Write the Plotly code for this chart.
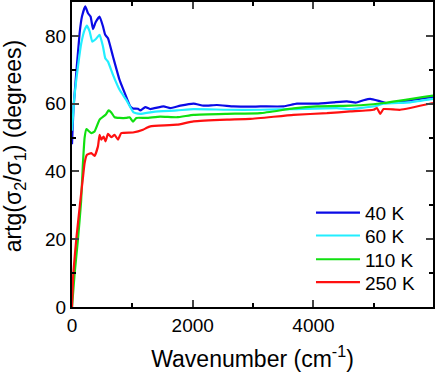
import plotly.graph_objects as go

# ---- data ----
x_40K = [0, 27, 126, 165, 220, 265, 308, 348, 391, 457, 513, 551, 596, 679, 788, 899, 965, 1010, 1093,
         1131, 1214, 1297, 1517, 1628, 1794, 2014, 2180, 2401, 2676, 2953, 3118, 3504, 3726, 4057,
         4332, 4554, 4700, 4829, 4940, 5106, 5216, 5602, 5980]
y_40K = [48, 59.2, 80.8, 85.7, 88.7, 86.7, 85.7, 82, 84, 85.7, 82.8, 80.3, 79.3, 73.9, 67, 62, 59.2, 58.6, 58.5,
         58, 59, 58.4, 59.2, 58.7, 59.4, 60, 59.4, 59.6, 59.2, 59.1, 59.2, 59.2, 60, 60,
         60.4, 60.7, 60.3, 61, 61.4, 60.7, 60.2, 61, 62]

x_60K = [0, 40, 99, 154, 209, 248, 292, 336, 391, 457, 513, 551, 596, 679, 788, 899, 1020, 1131, 1352,
         1739, 2014, 2567, 3118, 3670, 4388, 4609, 4774, 5051, 5161, 5602, 5980]
y_60K = [52, 62, 71, 77.9, 81.8, 83, 81.3, 78.3, 79, 80.3, 76.9, 73.4, 72.4, 68.5, 64.1, 61.1, 57.4, 57, 57.6,
         58, 58.4, 58.2, 58.2, 58.4, 58.7, 58.4, 58.7, 59.4, 60, 60.4, 61.4]

x_110K = [0, 44, 99, 150, 180, 209, 240, 265, 320, 374, 457, 556, 606, 651, 705, 788, 899, 954, 1010, 1065,
          1230, 1462, 1739, 2014, 2567, 3118, 3670, 4057, 4609, 4829, 5161, 5980]
y_110K = [0, 10, 20, 31, 42, 50, 52.5, 52.1, 51.3, 51.8, 55.3, 56.7, 58, 57.4, 56, 55.8, 55.8, 56, 54.7, 55.8,
          55.8, 56.2, 56, 56.7, 57, 57.2, 58.6, 59.2, 59.4, 59.6, 60.2, 62.4]

x_250K = [0, 22, 71, 130, 180, 209, 248, 320, 374, 430, 457, 485, 523, 556, 596, 651, 705, 762, 816, 1010,
          1176, 1230, 1297, 1739, 2014, 2567, 2953, 3670, 4223, 4609, 4995, 5051, 5106, 5161, 5437, 5980]
y_250K = [0, 10, 20, 30, 38, 42.5, 44.9, 45.4, 44.6, 47.4, 50.8, 49.4, 50.3, 48.9, 51.1, 50.1, 50.8, 49.4, 51.3, 51.5,
          52.3, 52.8, 53.3, 53.8, 54.8, 55.3, 55.5, 56.7, 57.2, 57.7, 58.2, 58.7, 57.0, 58.4, 58.2, 60.2]

names = ["40 K", "60 K", "110 K", "250 K"]
colors = ["#0a0ae6", "#22eeff", "#10e010", "#ff1010"]

x_ticks = [0, 2000, 4000]
y_ticks = [0, 20, 40, 60, 80]

font = "Liberation Sans, Arial, Helvetica, sans-serif"

fig = go.Figure()
legend_ids = ["legend", "legend2", "legend3", "legend4"]
for xs, ys, nm, c, lg in zip([x_40K, x_60K, x_110K, x_250K],
                             [y_40K, y_60K, y_110K, y_250K], names, colors, legend_ids):
    fig.add_trace(go.Scatter(x=xs, y=ys, mode="lines", name=nm, legend=lg,
                             line=dict(color=c, width=2.2, shape="spline", smoothing=0.4)))

legend_y = [0.309, 0.234, 0.156, 0.081]
legend_kw = {}
for lg, ly in zip(legend_ids, legend_y):
    legend_kw[lg] = dict(x=0.662, y=ly, xanchor="left", yanchor="middle",
                         bgcolor="rgba(0,0,0,0)", font=dict(size=19, family=font),
                         itemwidth=44)

fig.update_layout(
    width=436, height=383,
    margin=dict(l=72, r=3, t=2, b=76),
    paper_bgcolor="white", plot_bgcolor="white",
    font=dict(family=font, size=19, color="black"),
    showlegend=True,
    **legend_kw,
)
fig.add_annotation(
    text="artg(σ<sub>2</sub>/σ<sub>1</sub>) (degrees)", textangle=-90,
    xref="paper", yref="paper", x=-0.157, y=0.528, xanchor="center", yanchor="middle",
    showarrow=False, font=dict(size=23, family=font, color="black"),
)
fig.update_xaxes(
    range=[0, 5980], tickvals=x_ticks, ticks="inside", ticklen=7, tickwidth=2,
    showline=True, linecolor="black", linewidth=2, mirror="ticks", automargin=False,
    showgrid=False, zeroline=False, tickfont=dict(size=19),
    minor=dict(dtick=1000, ticks="inside", ticklen=4, tickwidth=2, tickcolor="black"),
    title=dict(text="Wavenumber (cm<sup>-1</sup>)", font=dict(size=23), standoff=16),
)
fig.update_yaxes(
    range=[0, 90], tickvals=y_ticks, ticks="inside", ticklen=7, tickwidth=2,
    showline=True, linecolor="black", linewidth=2, mirror="ticks", automargin=False,
    showgrid=False, zeroline=False, tickfont=dict(size=19),
    minor=dict(dtick=10, ticks="inside", ticklen=4, tickwidth=2, tickcolor="black"),
)
fig.write_html("out.html", config={"displayModeBar": False},
               post_script="document.body.style.margin='0';")
